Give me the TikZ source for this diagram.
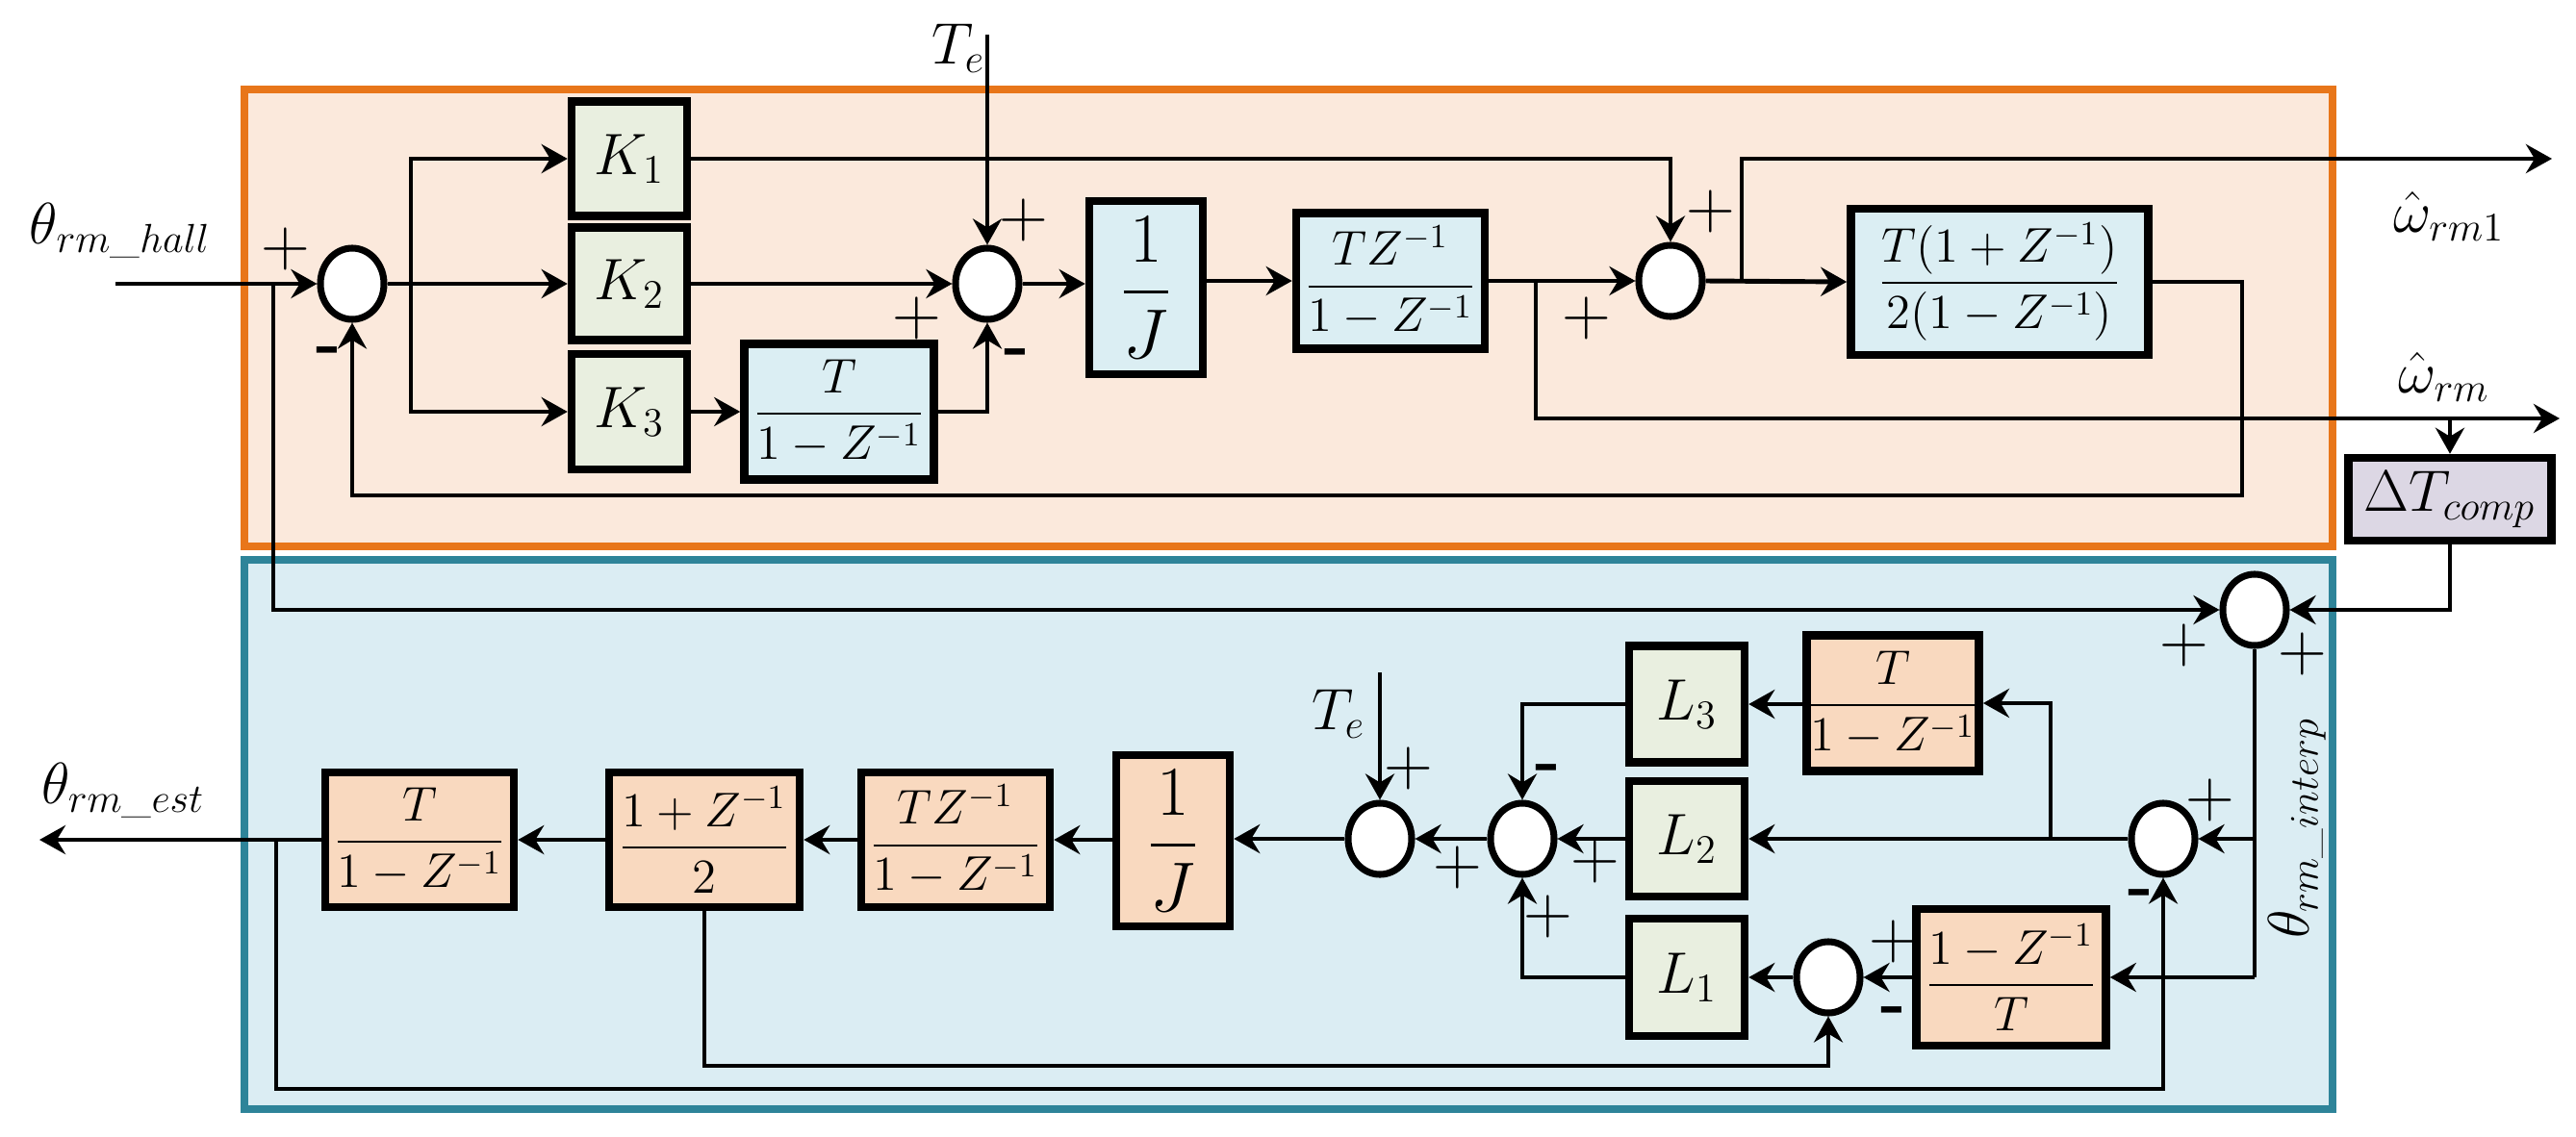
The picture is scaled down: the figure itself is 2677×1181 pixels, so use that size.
\documentclass[tikz,border=0pt]{standalone}
\usepackage{amsmath}
\usetikzlibrary{arrows.meta,shapes.geometric}
\definecolor{ofr}{HTML}{E8761A}\definecolor{ofl}{HTML}{FBE9DC}
\definecolor{bfr}{HTML}{2E8499}\definecolor{bfl}{HTML}{DBEDF3}
\definecolor{gbx}{HTML}{E9EFE0}\definecolor{bbx}{HTML}{DBEEF3}
\definecolor{obx}{HTML}{F9D9BF}\definecolor{pbx}{HTML}{DCD7E4}
\begin{document}
\begin{tikzpicture}[x=0.01cm,y=-0.01cm,
  font=\fontsize{17}{20}\selectfont,
  every path/.style={line width=1.4pt},
  >={Stealth[length=0.27cm,width=0.3cm,inset=0.09cm]},
  sum/.style={ellipse,draw,line width=2pt,fill=white,minimum width=0.66cm,minimum height=0.74cm,inner sep=0pt},
  box/.style={draw,line width=2.4pt,inner sep=0pt},
  g/.style={box,fill=gbx},b/.style={box,fill=bbx},o/.style={box,fill=obx},
  fr/.style={font=\fontsize{14}{16}\selectfont},
  sg/.style={font=\fontsize{20}{20}\selectfont}]
\useasboundingbox (0,0) rectangle (2677,1181);
\draw[draw=ofr,fill=ofl,line width=2pt] (254,93) rectangle (2424,568);
\draw[draw=bfr,fill=bfl,line width=2pt] (254,582) rectangle (2424,1153);
% top nodes
\node[sum] (s1) at (366,295) {};
\node[g,minimum width=1.2cm,minimum height=1.19cm] (K1) at (654,165) {$K_1$};
\node[g,minimum width=1.2cm,minimum height=1.17cm] (K2) at (654,295) {$K_2$};
\node[g,minimum width=1.2cm,minimum height=1.2cm] (K3) at (654,428) {$K_3$};
\node[b,fr,minimum width=1.97cm,minimum height=1.41cm] (F1) at (872,428) {$\dfrac{T}{1-Z^{-1}}$};
\node[sum] (s2) at (1026,295) {};
\node[b,minimum width=1.18cm,minimum height=1.8cm,font=\fontsize{22}{24}\selectfont] (J1) at (1191,299) {$\dfrac{1}{J}$};
\node[b,fr,minimum width=1.96cm,minimum height=1.41cm] (F2) at (1445,292) {$\dfrac{TZ^{-1}}{1-Z^{-1}}$};
\node[sum] (s3) at (1736,292) {};
\node[b,fr,minimum width=3.09cm,minimum height=1.52cm] (F3) at (2078,293) {$\dfrac{T(1+Z^{-1})}{2(1-Z^{-1})}$};
\node[box,fill=pbx,minimum width=2.11cm,minimum height=0.86cm] (DT) at (2546,519) {$\Delta T_{comp}$};
\coordinate (in) at (120,295);
\coordinate (b1) at (427,295);
\coordinate (te1) at (1026,36);
\coordinate (b3) at (1810,292);
\coordinate (o1) at (2652,165);
\coordinate (b2) at (1596,292);
\coordinate (o2) at (2660,435);
\coordinate (fb) at (2330,515);
\coordinate (dti) at (2546,435);
\coordinate (j0) at (284,295);
% top edges
\draw[->] (in) -- (s1.west);
\draw[->] (s1.east) -- (K2.west);
\draw[->] (b1) |- (K1.west);
\draw[->] (b1) |- (K3.west);
\draw[->] (K2.east) -- (s2.west);
\draw[->] (K3.east) -- (F1.west);
\draw[->] (F1.east) -| (s2.south);
\draw[->] (te1) -- (s2.north);
\draw[->] (s2.east) -- (s2.east -| J1.west);
\draw[->] (J1.east |- F2.west) -- (F2.west);
\draw[->] (F2.east) -- (s3.west);
\draw[->] (K1.east) -| (s3.north);
\draw[->] (s3.east) -- (F3.west);
\draw[->] (b3) |- (o1);
\draw[->] (b2) |- (o2);
\draw[->,line width=1.1pt] (F3.east) -| (fb) -| (s1.south);
\draw[->] (dti) -- (DT.north);
% lower nodes
\node[sum] (sA) at (2343,634) {};
\node[sum] (sB) at (2248,872) {};
\node[o,fr,minimum width=1.69cm,minimum height=1.41cm] (F4) at (1967,731) {$\dfrac{T}{1-Z^{-1}}$};
\node[g,minimum width=1.2cm,minimum height=1.21cm] (L3) at (1753,732) {$L_3$};
\node[g,minimum width=1.2cm,minimum height=1.2cm] (L2) at (1753,872) {$L_2$};
\node[g,minimum width=1.2cm,minimum height=1.22cm] (L1) at (1753,1016) {$L_1$};
\node[sum] (sC) at (1582,872) {};
\node[sum] (sE) at (1434,872) {};
\node[o,fr,minimum width=1.97cm,minimum height=1.42cm] (F5) at (2090,1016) {$\dfrac{1-Z^{-1}}{T}$};
\node[sum] (sD) at (1900,1016) {};
\node[o,minimum width=1.18cm,minimum height=1.78cm,font=\fontsize{22}{24}\selectfont] (J2) at (1219,874) {$\dfrac{1}{J}$};
\node[o,fr,minimum width=1.96cm,minimum height=1.4cm] (F6) at (993,873) {$\dfrac{TZ^{-1}}{1-Z^{-1}}$};
\node[o,fr,minimum width=1.98cm,minimum height=1.4cm] (F7) at (732,873) {$\dfrac{1+Z^{-1}}{2}$};
\node[o,fr,minimum width=1.96cm,minimum height=1.4cm] (F8) at (436,873) {$\dfrac{T}{1-Z^{-1}}$};
\coordinate (r1) at (2343,1016);
\coordinate (r2) at (2343,872);
\coordinate (bt) at (2131,872);
\coordinate (te2) at (1434,699);
\coordinate (out) at (41,873);
\coordinate (b4) at (287,873);
\coordinate (d1) at (1900,1108);
\coordinate (d2) at (2248,1132);
% lower edges
\draw[->] (DT.south) |- (sA.east);
\draw[->] (j0) |- (sA.west);
\draw (sA.south) -- (r1);
\draw[->] (r2) -- (sB.east);
\draw[->] (sB.west) -- (L2.east);
\draw[->] (bt) |- (F4.east);
\draw[->] (F4.west |- L3.east) -- (L3.east);
\draw[->] (L3.west) -| (sC.north);
\draw[->] (L2.west) -- (sC.east);
\draw[->] (L1.west) -| (sC.south);
\draw[->] (r1) -- (F5.east);
\draw[->] (F5.west) -- (sD.east);
\draw[->] (sD.west) -- (L1.east);
\draw[->] (sC.west) -- (sE.east);
\draw[->] (te2) -- (sE.north);
\draw[->] (sE.west) -- (sE.west -| J2.east);
\draw[->] (J2.west |- F6.east) -- (F6.east);
\draw[->] (F6.west) -- (F7.east);
\draw[->] (F7.west) -- (F8.east);
\draw[->] (F8.west) -- (out);
\draw[->,line width=1.1pt] (F7.south) |- (d1) -- (sD.south);
\draw[->,line width=1.1pt] (b4) |- (d2) -- (sB.south);
% labels
\node at (125,240) {$\theta_{rm\_hall}$};
\node at (996,50) {$T_e$};
\node at (2545,225) {$\hat{\omega}_{rm1}$};
\node at (2540,392) {$\hat{\omega}_{rm}$};
\node at (128,822) {$\theta_{rm\_est}$};
\node[rotate=90] at (2387,861) {$\theta_{rm\_interp}$};
\node at (1391,742) {$T_e$};
\node[sg] at (297,259) {+};
\node[sg] at (342,370) {\textbf{-}};
\node[sg] at (1064,229) {+};
\node[sg] at (953,331) {+};
\node[sg] at (1057,372) {\textbf{-}};
\node[sg] at (1778,220) {+};
\node[sg] at (1649,331) {+};
\node[sg] at (2270,671) {+};
\node[sg] at (2393,680) {+};
\node[sg] at (2297,832) {+};
\node[sg] at (2225,934) {\textbf{-}};
\node[sg] at (1609,804) {\textbf{-}};
\node[sg] at (1658,896) {+};
\node[sg] at (1609,953) {+};
\node[sg] at (1968,979) {+};
\node[sg] at (1968,1056) {\textbf{-}};
\node[sg] at (1464,799) {+};
\node[sg] at (1515,902) {+};
\end{tikzpicture}
\end{document}
